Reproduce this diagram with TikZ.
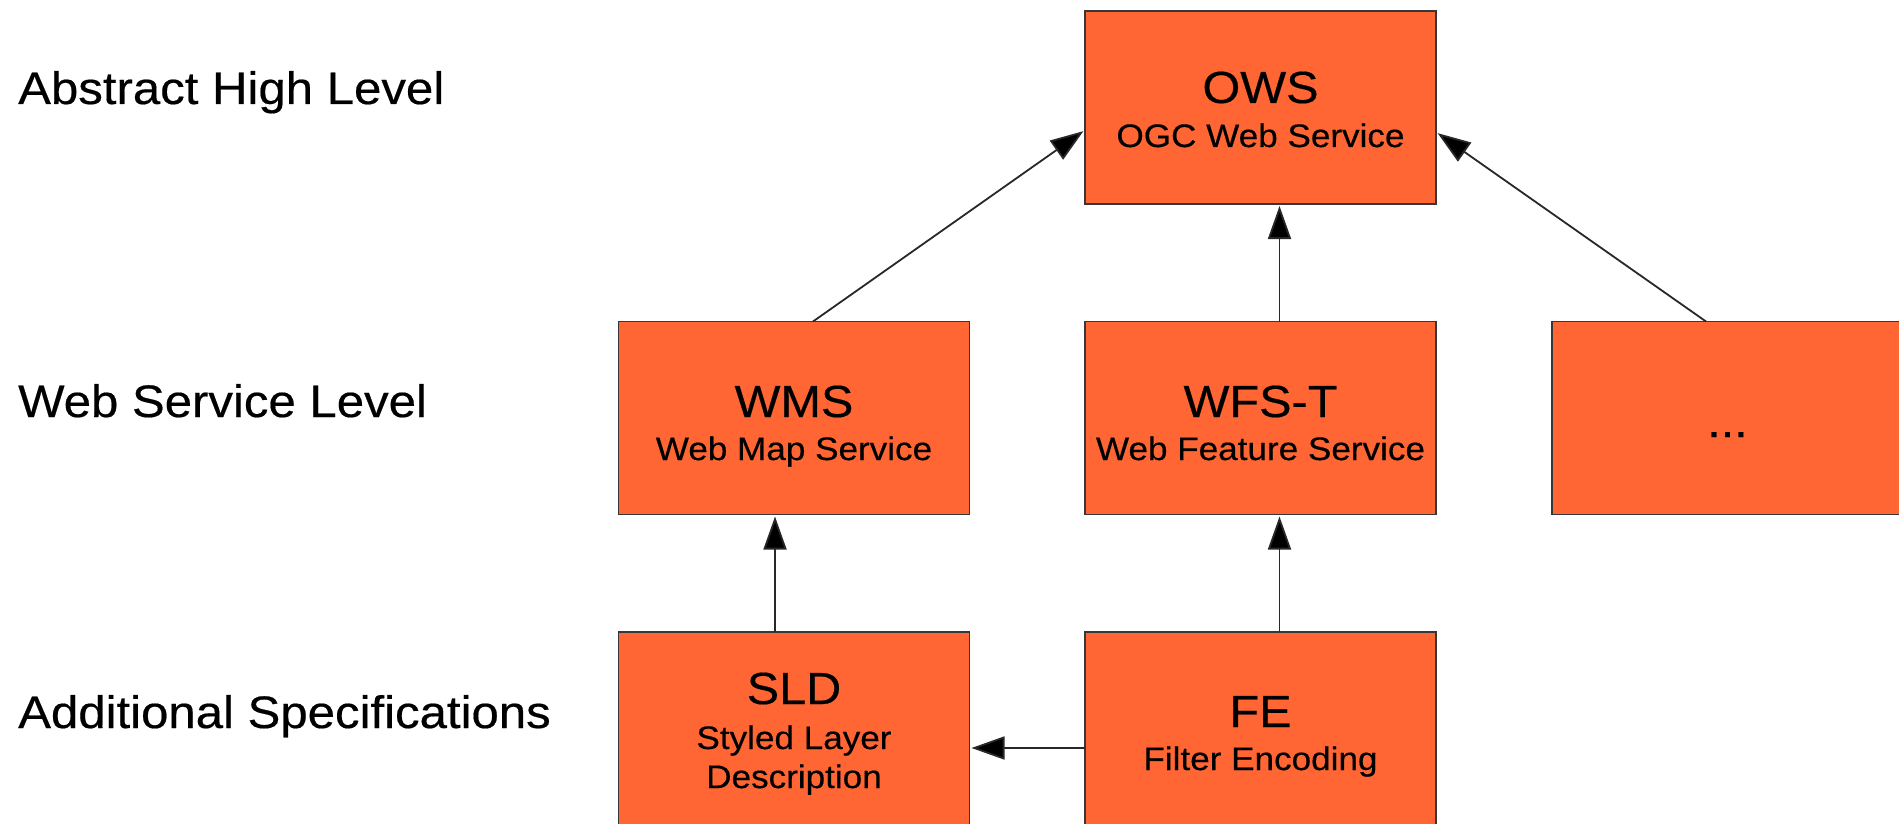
\documentclass[tikz,border=0pt]{standalone}
\usepackage{fontspec}
\setmainfont{Liberation Sans}[FakeStretch=1.08,FakeBold=0.4]
\usetikzlibrary{arrows.meta}
\definecolor{boxfill}{RGB}{255,102,51}
\definecolor{boxline}{RGB}{55,55,55}
\definecolor{conn}{RGB}{40,40,40}
\tikzset{
  box/.style={draw=boxline, line width=1.8pt, fill=boxfill, rectangle,
    minimum width=351pt, minimum height=193pt, inner sep=0pt, outer sep=0pt},
  ttl/.style={anchor=base, inner sep=0pt, font=\fontsize{45}{54}\selectfont},
  sub/.style={anchor=base, inner sep=0pt, font=\fontsize{32.5}{39}\selectfont},
  lvl/.style={anchor=base west, inner sep=0pt, font=\fontsize{45.5}{54}\selectfont},
  arr/.style={draw=conn, line width=1.8pt,
    -{Triangle[length=33pt,width=23pt,fill=black]}, shorten >=2pt}
}
\begin{document}
\begin{tikzpicture}[x=1pt,y=-1pt]
\useasboundingbox (0,0) rectangle (1899,824);
\clip (0,0) rectangle (1899,824);
\fill[white] (0,0) rectangle (1899,824);

% level labels
\node[lvl] (l1) at (18,104) {Abstract High Level};
\node[lvl] (l2) at (18,417) {Web Service Level};
\node[lvl] (l3) at (18,728) {Additional Specifications};

% boxes
\node[box] (ows) at (1260.5,107.5) {};
\node[box] (wms) at (794,418) {};
\node[box] (wfs) at (1260.5,418) {};
\node[box] (etc) at (1727.5,418) {};
\node[box] (sld) at (794,728.5) {};
\node[box] (fe)  at (1260.5,728.5) {};

% box texts
\node[ttl] (owsT) at (1260.5,103) {OWS};
\node[sub] (owsS) at (1260.5,147) {OGC Web Service};
\node[ttl] (wmsT) at (794,417) {WMS};
\node[sub] (wmsS) at (794,460) {Web Map Service};
\node[ttl] (wfsT) at (1260.5,417) {WFS-T};
\node[sub] (wfsS) at (1260.5,460) {Web Feature Service};
\node[ttl] (etcT) at (1727.5,437) {...};
\node[ttl] (sldT) at (794,704) {SLD};
\node[sub] (sldS1) at (794,749) {Styled Layer};
\node[sub] (sldS2) at (794,788) {Description};
\node[ttl] (feT) at (1260.5,727) {FE};
\node[sub] (feS) at (1260.5,770) {Filter Encoding};

% connectors
\draw[arr] ([xshift=19pt]wms.north) -- ([yshift=-22.5pt]ows.west);
\draw[arr] ([xshift=19pt]wfs.north) -- ([xshift=19pt]ows.south);
\draw[arr] ([xshift=-21.5pt]etc.north) -- ([yshift=-24.5pt]ows.east);
\draw[arr] ([xshift=-19pt]sld.north) -- ([xshift=-19pt]wms.south);
\draw[arr] ([xshift=19pt]fe.north) -- ([xshift=19pt]wfs.south);
\draw[arr] ([yshift=-19.5pt]fe.west) -- ([yshift=-19.5pt]sld.east);
\end{tikzpicture}
\end{document}
